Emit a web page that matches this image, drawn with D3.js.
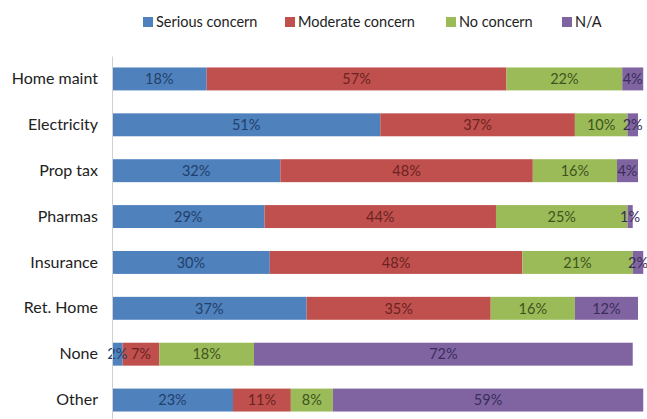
<!DOCTYPE html>
<html>
<head>
<meta charset="utf-8">
<script src="https://cdn.jsdelivr.net/npm/d3@7"></script>
<style>
  body { margin: 0; background: #fff; }
  text { font-family: Lato, "Open Sans", sans-serif; }
</style>
</head>
<body>
<div id="chart"></div>
<script>
// categories and series
const categories = ['Home maint', 'Electricity', 'Prop tax', 'Pharmas', 'Insurance', 'Ret. Home', 'None', 'Other'];
const seriesNames = ['Serious concern', 'Moderate concern', 'No concern', 'N/A'];
const serious  = [18, 51, 32, 29, 30, 37, 2, 23];
const moderate = [57, 37, 48, 44, 48, 35, 7, 11];
const noConcern = [22, 10, 16, 25, 21, 16, 18, 8];
const na       = [4, 2, 4, 1, 2, 12, 72, 59];

const colors = ['#4f81bd', '#c0504d', '#9bbb59', '#8064a2'];
const labelColors = ['#22406a', '#6a2322', '#3e5420', '#3a2d58'];

const width = 647;
const height = 419;
const margin = { top: 56, right: 0, bottom: -4, left: 112 };

const rows = categories.map((c, i) => ({
    category: c,
    'Serious concern': serious[i],
    'Moderate concern': moderate[i],
    'No concern': noConcern[i],
    'N/A': na[i]
}));

const stacked = d3.stack().keys(seriesNames)(rows);

const svg = d3.select('#chart').append('svg')
    .attr('width', width)
    .attr('height', height);

const xScale = d3.scaleLinear()
    .domain([0, 100])
    .range([margin.left, 638]);

const yScale = d3.scaleBand()
    .domain(categories)
    .range([margin.top, height - margin.bottom])
    .paddingInner(0.5)
    .paddingOuter(0.25);

// bars
const layers = svg.selectAll('.layer')
    .data(stacked)
    .enter().append('g')
    .attr('class', 'layer')
    .attr('fill', (d, i) => colors[i]);

layers.selectAll('rect')
    .data(d => d)
    .enter().append('rect')
    .attr('x', d => xScale(d[0]))
    .attr('y', d => yScale(d.data.category))
    .attr('width', d => xScale(d[1]) - xScale(d[0]))
    .attr('height', yScale.bandwidth());

// value labels
stacked.forEach((layer, i) => {
    svg.selectAll('.lbl-' + i)
        .data(layer)
        .enter().append('text')
        .attr('class', 'lbl-' + i)
        .attr('x', d => xScale((d[0] + d[1]) / 2))
        .attr('y', d => yScale(d.data.category) + yScale.bandwidth() / 2)
        .attr('dy', '0.36em')
        .attr('text-anchor', 'middle')
        .attr('font-size', 14.5)
        .attr('fill', labelColors[i])
        .text(d => (d[1] - d[0]) + '%');
});

// category axis
const yAxis = svg.append('g')
    .attr('transform', `translate(${margin.left},0)`)
    .call(d3.axisLeft(yScale).tickSize(0).tickPadding(14));
yAxis.select('.domain').attr('stroke', '#d0d0d0');
yAxis.selectAll('text')
    .attr('font-size', 16)
    .attr('font-family', 'Lato, "Open Sans", sans-serif')
    .attr('fill', '#222');

// legend
const legendX = [143, 285, 446, 562];
const legend = svg.selectAll('.legend')
    .data(seriesNames)
    .enter().append('g')
    .attr('class', 'legend')
    .attr('transform', (d, i) => `translate(${legendX[i]},22)`);

legend.append('rect')
    .attr('x', 0)
    .attr('y', -5)
    .attr('width', 10)
    .attr('height', 10)
    .attr('fill', (d, i) => colors[i]);

legend.append('text')
    .attr('x', 13)
    .attr('y', 0)
    .attr('dy', '0.35em')
    .attr('font-size', 14.5)
    .attr('fill', '#222')
    .text(d => d);
</script>
</body>
</html>
